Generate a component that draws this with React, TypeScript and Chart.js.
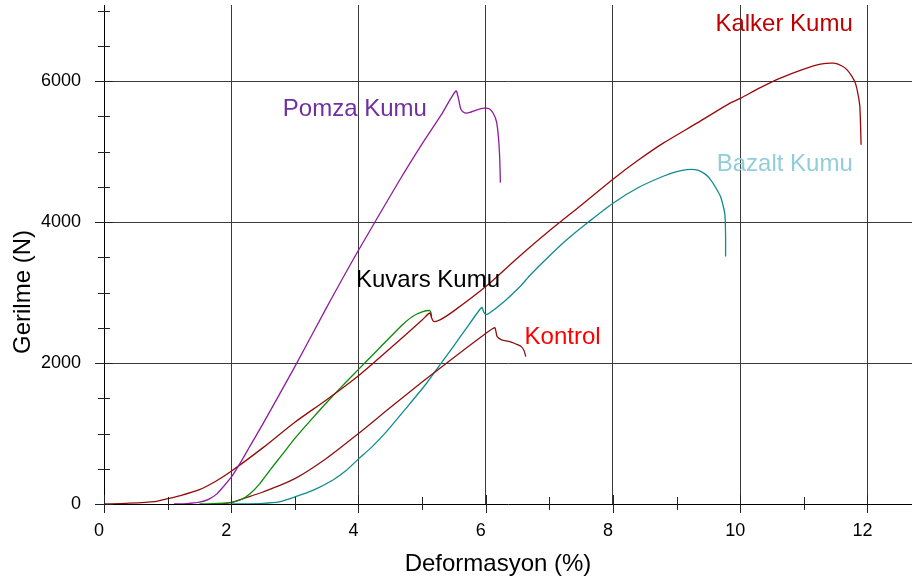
import React, { useEffect, useRef } from 'react';
import { Chart, registerables } from 'chart.js';

Chart.register(...registerables);

// ---- data (Deformasyon %, Gerilme N) ----
const pomzaX = [1.1, 1.3, 1.5, 1.65, 1.77, 1.88, 2.0, 2.15, 2.3, 2.5, 3.0, 3.5, 4.0, 4.65, 5.0, 5.3, 5.53, 5.57, 5.61, 5.67, 5.75, 5.85, 5.98, 6.06, 6.12, 6.17, 6.2, 6.22, 6.23];
const pomzaY = [0, 5, 25, 70, 140, 250, 380, 595, 830, 1140, 1950, 2790, 3600, 4600, 5110, 5520, 5860, 5760, 5600, 5550, 5555, 5590, 5616, 5605, 5540, 5420, 5200, 4900, 4560];

const kalkerX = [0, 0.35, 0.8, 1.0, 1.2, 1.5, 1.75, 2.0, 2.5, 3.0, 3.5, 4.0, 4.5, 5.0, 5.12, 5.15, 5.18, 5.28, 5.5, 6.0, 6.5, 7.0, 7.5, 8.0, 8.4, 8.79, 9.32, 9.84, 10.0, 10.3, 10.63, 11.0, 11.26, 11.47, 11.6, 11.68, 11.76, 11.81, 11.85, 11.88, 11.9];
const kalkerY = [0, 10, 35, 75, 120, 205, 320, 465, 800, 1160, 1480, 1820, 2210, 2610, 2710, 2640, 2590, 2612, 2740, 3085, 3491, 3877, 4240, 4609, 4880, 5120, 5404, 5688, 5755, 5900, 6042, 6170, 6240, 6255, 6215, 6160, 6060, 5971, 5820, 5640, 5096];

const kuvarsX = [1.5, 1.9, 2.0, 2.15, 2.3, 2.45, 2.6, 2.8, 3.0, 3.25, 3.5, 3.75, 4.0, 4.25, 4.5, 4.7, 4.85, 5.0, 5.12, 5.14, 5.15];
const kuvarsY = [0, 12, 22, 60, 150, 290, 470, 700, 930, 1190, 1440, 1680, 1910, 2140, 2370, 2550, 2660, 2725, 2745, 2710, 2660];

const kontrolX = [1.8, 2.0, 2.2, 2.5, 3.0, 3.5, 4.0, 4.5, 5.0, 5.5, 6.0, 6.14, 6.16, 6.18, 6.25, 6.38, 6.5, 6.56, 6.6, 6.63];
const kontrolY = [0, 20, 80, 170, 360, 650, 1000, 1370, 1730, 2080, 2420, 2503, 2450, 2375, 2330, 2304, 2260, 2233, 2180, 2091];

const bazaltX = [2.0, 2.5, 2.75, 3.0, 3.3, 3.6, 3.8, 4.0, 4.2, 4.44, 4.75, 5.07, 5.3, 5.49, 5.7, 5.91, 5.94, 5.97, 6.0, 6.06, 6.3, 6.54, 6.7, 7.0, 7.3, 7.61, 8.0, 8.4, 8.79, 9.0, 9.16, 9.32, 9.45, 9.53, 9.62, 9.69, 9.74, 9.76, 9.77, 9.77];
const bazaltY = [0, 10, 30, 100, 200, 340, 470, 640, 800, 1027, 1360, 1713, 2000, 2233, 2500, 2763, 2790, 2720, 2690, 2710, 2880, 3085, 3250, 3520, 3770, 3998, 4268, 4490, 4650, 4715, 4745, 4741, 4680, 4605, 4480, 4362, 4200, 4100, 3800, 3510];

// ---- series labels ----
const seriesNames = ['Pomza Kumu', 'Kalker Kumu', 'Kuvars Kumu', 'Kontrol', 'Bazalt Kumu'];
const lineColors = ['#8e1c9e', '#980a0a', '#0a8a0a', '#8b1212', '#0e8c8f'];
const labelColors = ['#7030a0', '#c00000', '#000000', '#ff0000', '#92cddc'];
const labelX = [2.81, 9.61, 3.96, 6.61, 9.63];
const labelY = [5593, 6799, 3170, 2370, 4812];

// ---- axes ----
const xTitle = 'Deformasyon (%)';
const yTitle = 'Gerilme (N)';
const xTickValues = [0, 2, 4, 6, 8, 10, 12];
const yTickValues = [0, 2000, 4000, 6000];
const xMinorStep = 1;
const yMinorStep = 500;
const xMax = 12.7;
const yMax = 7080;

const FONT = '"Liberation Sans", Arial, sans-serif';

const toPts = (xs: number[], ys: number[]) => xs.map((x, i) => ({ x, y: ys[i] }));

const crossTicks = {
  id: 'crossTicks',
  afterDraw(chart: any) {
    const { ctx, scales, chartArea } = chart;
    const x = scales.x;
    const y = scales.y;
    ctx.save();
    ctx.strokeStyle = '#222';
    ctx.lineWidth = 1;
    for (let v = 0; v <= 7000; v += yMinorStep) {
      const py = Math.round(y.getPixelForValue(v)) + 0.5;
      const major = yTickValues.includes(v);
      ctx.beginPath();
      ctx.moveTo(chartArea.left - (major ? 9 : 6), py);
      ctx.lineTo(chartArea.left + (major ? 9 : 6), py);
      ctx.stroke();
    }
    for (let v = 0; v <= 12; v += xMinorStep) {
      const px = Math.round(x.getPixelForValue(v)) + 0.5;
      const major = xTickValues.includes(v);
      ctx.beginPath();
      ctx.moveTo(px, chartArea.bottom - (major ? 9 : 7));
      ctx.lineTo(px, chartArea.bottom + (major ? 9 : 6));
      ctx.stroke();
    }
    // axis titles
    ctx.fillStyle = '#000';
    ctx.font = `24px ${FONT}`;
    ctx.textAlign = 'center';
    ctx.textBaseline = 'middle';
    ctx.fillText(xTitle, 498, 564);
    ctx.save();
    ctx.translate(23, 292);
    ctx.rotate(-Math.PI / 2);
    ctx.fillText(yTitle, 0, 0);
    ctx.restore();
    ctx.restore();
  },
};

const seriesLabels = {
  id: 'seriesLabels',
  afterDatasetsDraw(chart: any) {
    const { ctx, scales } = chart;
    ctx.save();
    ctx.font = `24px ${FONT}`;
    ctx.textAlign = 'left';
    ctx.textBaseline = 'middle';
    seriesNames.forEach((name, i) => {
      ctx.fillStyle = labelColors[i];
      ctx.fillText(name, scales.x.getPixelForValue(labelX[i]), scales.y.getPixelForValue(labelY[i]));
    });
    ctx.restore();
  },
};

export default function App() {
  const ref = useRef<HTMLCanvasElement>(null);
  useEffect(() => {
    if (!ref.current) return;
    const series = [
      toPts(pomzaX, pomzaY),
      toPts(kalkerX, kalkerY),
      toPts(kuvarsX, kuvarsY),
      toPts(kontrolX, kontrolY),
      toPts(bazaltX, bazaltY),
    ];
    const chart = new Chart(ref.current, {
      type: 'line',
      data: {
        datasets: series.map((d, i) => ({
          label: seriesNames[i],
          data: d,
          borderColor: lineColors[i],
          borderWidth: 1.3,
          pointRadius: 0,
          fill: false,
          tension: 0.25,
        })),
      },
      options: {
        responsive: false,
        animation: false,
        events: [],
        layout: { padding: { top: 5, right: 0, left: 0, bottom: 0 } },
        plugins: { legend: { display: false }, tooltip: { enabled: false } },
        scales: {
          x: {
            type: 'linear',
            min: 0,
            max: xMax,
            afterBuildTicks: (s: any) => { s.ticks = xTickValues.map((v) => ({ value: v })); },
            afterFit: (s: any) => { s.height = 80; s.paddingLeft = 0; s.paddingRight = 0; },
            ticks: { font: { size: 18, family: FONT }, color: '#000', padding: 16, labelOffset: -5, maxRotation: 0, callback: (v: any) => String(v) },
            grid: {
              drawTicks: false,
              color: (c: any) => (c.tick && c.tick.value === 0 ? 'rgba(0,0,0,0)' : '#3a3a3a'),
              lineWidth: 1,
            },
            border: { display: true, color: '#000', width: 1 },
            title: { display: false },
          },
          y: {
            type: 'linear',
            min: 0,
            max: yMax,
            afterBuildTicks: (s: any) => { s.ticks = yTickValues.map((v) => ({ value: v })); },
            afterFit: (s: any) => { s.width = 104; s.paddingTop = 0; s.paddingBottom = 0; },
            ticks: { font: { size: 18, family: FONT }, color: '#000', padding: 23, callback: (v: any) => String(v) },
            grid: {
              drawTicks: false,
              color: (c: any) => (c.tick && c.tick.value === 0 ? 'rgba(0,0,0,0)' : '#3a3a3a'),
              lineWidth: 1,
            },
            border: { display: true, color: '#000', width: 1 },
            title: { display: false },
          },
        },
      },
      plugins: [crossTicks, seriesLabels],
    });
    return () => chart.destroy();
  }, []);
  return (
    <canvas
      ref={ref}
      width={912}
      height={584}
      style={{ position: 'fixed', left: 0, top: 0, width: 912, height: 584, display: 'block', background: '#fff' }}
    />
  );
}
